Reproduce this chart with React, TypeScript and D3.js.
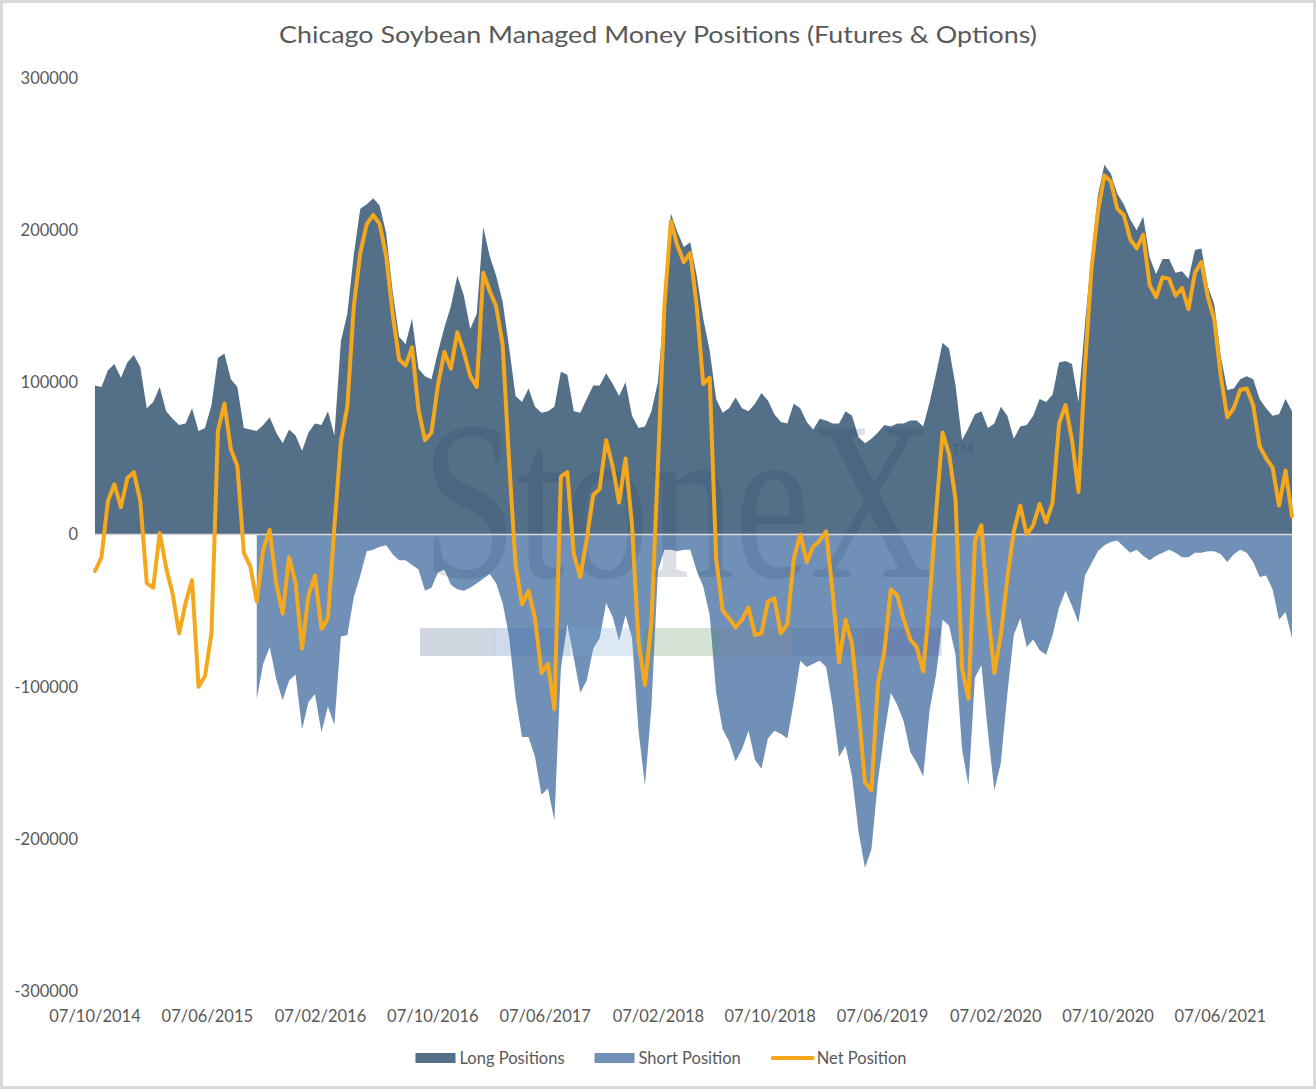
import React, { useRef, useEffect } from 'react';
import * as d3 from 'd3';

// ─── Data (thousands of contracts, one reading every two weeks) ──────────────
const TITLE = 'Chicago Soybean Managed Money Positions (Futures & Options)';
const FIRST_DATE = '07/10/2014';
const STEP_DAYS = 14;

const LONG_K: number[] = [
    98, 97, 108, 112, 103, 113, 118, 110, 83, 87,
    97, 81, 76, 72, 73, 83, 68, 70, 85, 116,
    119, 102, 97, 70, 69, 68, 72, 77, 67, 60,
    69, 65, 55, 67, 73, 72, 81, 65, 127, 145,
    184, 214, 217, 221, 216, 198, 160, 130, 125, 142,
    109, 104, 102, 120, 136, 150, 170, 157, 135, 145,
    202, 183, 170, 153, 123, 91, 87, 96, 84, 80,
    81, 84, 107, 105, 81, 80, 89, 98, 98, 106,
    99, 91, 100, 78, 70, 71, 81, 100, 150, 211,
    199, 189, 192, 170, 142, 121, 89, 80, 83, 90,
    83, 81, 86, 93, 88, 79, 74, 73, 86, 83,
    74, 69, 76, 75, 73, 73, 81, 78, 64, 60,
    63, 67, 72, 71, 73, 73, 75, 75, 71, 87,
    106, 126, 122, 98, 62, 70, 79, 81, 70, 73,
    84, 78, 63, 71, 72, 78, 89, 87, 92, 113,
    114, 112, 87, 138, 184, 223, 243, 237, 224, 217,
    207, 200, 209, 182, 171, 181, 181, 172, 173, 168,
    187, 188, 163, 151, 117, 95, 96, 102, 104, 102,
    89, 83, 78, 79, 89, 81,
];

const SHORT_K: (number | null)[] = [
    null, null, null, null, null, null, null, null, null, null,
    null, null, null, null, null, null, null, null, null, null,
    null, null, null, null, null, -108, -85, -74, -95, -109,
    -96, -92, -128, -110, -105, -130, -113, -125, -67, -66,
    -41, -27, -11, -10, -8, -7, -13, -17, -17, -20,
    -23, -37, -35, -25, -23, -33, -36, -37, -35, -32,
    -29, -26, -32, -45, -67, -107, -133, -133, -146, -171,
    -167, -188, -88, -59, -81, -104, -96, -75, -68, -45,
    -54, -70, -53, -68, -129, -165, -113, -24, -10, -10,
    -11, -10, -10, -24, -34, -53, -104, -128, -136, -149,
    -141, -129, -148, -154, -134, -129, -131, -134, -110, -83,
    -87, -85, -83, -87, -113, -146, -139, -159, -195, -219,
    -207, -162, -131, -104, -112, -123, -143, -150, -159, -115,
    -92, -56, -60, -79, -141, -165, -94, -86, -130, -168,
    -150, -105, -66, -55, -74, -69, -76, -79, -66, -48,
    -37, -47, -58, -27, -19, -11, -7, -5, -4, -8,
    -12, -10, -14, -17, -14, -12, -10, -12, -15, -15,
    -12, -12, -11, -11, -13, -18, -13, -10, -12, -18,
    -28, -27, -36, -56, -51, -68,
];

const NET_K: number[] = [
    -24, -15, 22, 33, 18, 37, 41, 22, -32, -35,
    1, -22, -39, -65, -45, -30, -100, -93, -65, 68,
    86, 56, 45, -12, -21, -44, -10, 3, -32, -52,
    -15, -32, -75, -40, -27, -62, -55, 5, 61, 84,
    150, 185, 204, 210, 204, 183, 145, 115, 111, 123,
    82, 62, 67, 98, 120, 109, 133, 120, 104, 97,
    172, 160, 150, 125, 48, -20, -46, -37, -55, -91,
    -85, -115, 38, 41, -13, -28, -3, 26, 30, 62,
    45, 21, 50, 6, -71, -99, -57, 45, 150, 206,
    190, 179, 185, 150, 99, 103, -16, -50, -55, -61,
    -56, -48, -66, -65, -44, -42, -65, -59, -16, 0,
    -18, -8, -4, 2, -38, -84, -56, -72, -115, -163,
    -168, -98, -77, -36, -40, -56, -69, -74, -90, -43,
    15, 67, 53, 23, -88, -108, -4, 6, -50, -91,
    -66, -29, 2, 19, 0, 6, 20, 8, 21, 73,
    85, 62, 28, 110, 174, 212, 236, 232, 214, 210,
    194, 188, 197, 164, 156, 169, 168, 157, 162, 148,
    172, 179, 156, 141, 104, 77, 83, 95, 96, 85,
    58, 50, 44, 19, 42, 12,
];

const Y_TICKS = [300, 200, 100, 0, -100, -200, -300];
const Y_TICK_LABELS = ['300000', '200000', '100000', '0', '-100000', '-200000', '-300000'];
const X_TICK_LABELS = [
    '07/10/2014', '07/06/2015', '07/02/2016', '07/10/2016', '07/06/2017', '07/02/2018',
    '07/10/2018', '07/06/2019', '07/02/2020', '07/10/2020', '07/06/2021',
];
const SERIES_NAMES = ['Long Positions', 'Short Position', 'Net Position'];
const WATERMARK_BANDS = ['#435F83', '#3F6FB0', '#73A7CF', '#578F5B', '#7A7F86', '#4F6F96', '#5A5AA0'];

// ─── Look ─────────────────────────────────────────────────────────────────────
const W = 1316;
const H = 1089;
const PLOT = { left: 95, right: 1292, top: 78, bottom: 991 };
const COL = {
    long: '#546F88',
    short: '#7090B7',
    net: '#F5A81C',
    text: '#595959',
    axis: '#D9D9D9',
    mark: '#1F3A5F',
};
const FONT = 'Lato, "Open Sans", sans-serif';

const parseDay = d3.timeParse('%d/%m/%Y');

const App: React.FC = () => {
    const ref = useRef<SVGSVGElement | null>(null);

    useEffect(() => {
        if (!ref.current) return;

        // ─── 1. Clean-slate ──────────────────────────────────────────────────
        const svg = d3.select(ref.current);
        svg.selectAll('*').remove();

        // ─── 2. Scales ───────────────────────────────────────────────────────
        const start = parseDay(FIRST_DATE) as Date;
        const dates = LONG_K.map((_, i) => d3.timeDay.offset(start, i * STEP_DAYS));
        const x = d3
            .scaleTime()
            .domain([dates[0], dates[dates.length - 1]])
            .range([PLOT.left, PLOT.right]);
        const y = d3.scaleLinear().domain([-300, 300]).range([PLOT.bottom, PLOT.top]);

        // ─── 3. Frame + title ────────────────────────────────────────────────
        svg.append('rect')
            .attr('x', 1.5).attr('y', 1.5)
            .attr('width', W - 3).attr('height', H - 3)
            .attr('fill', '#fff')
            .attr('stroke', COL.axis)
            .attr('stroke-width', 3);

        svg.append('text')
            .attr('x', W / 2)
            .attr('y', 43)
            .attr('text-anchor', 'middle')
            .attr('textLength', 758)
            .attr('lengthAdjust', 'spacingAndGlyphs')
            .style('font-family', FONT)
            .style('font-size', '23px')
            .style('fill', COL.text)
            .text(TITLE);

        // ─── 4. Areas ────────────────────────────────────────────────────────
        const longArea = d3.area<number>()
            .x((_, i) => x(dates[i]))
            .y0(y(0))
            .y1(d => y(d));

        svg.append('path')
            .datum(LONG_K)
            .attr('fill', COL.long)
            .attr('d', longArea);

        const shortArea = d3.area<number | null>()
            .defined(d => d !== null)
            .x((_, i) => x(dates[i]))
            .y0(y(0))
            .y1(d => y(d as number));

        svg.append('path')
            .datum(SHORT_K)
            .attr('fill', COL.short)
            .attr('d', shortArea);

        // ─── 5. Watermark ────────────────────────────────────────────────────
        // squeezed with a transform so its box matches the drawn glyphs
        const wm = svg.append('g').attr('pointer-events', 'none');
        const brand = wm.append('text')
            .attr('x', 0)
            .attr('y', 0)
            .style('font-family', '"Liberation Serif", "DejaVu Serif", serif')
            .style('font-size', '226px')
            .style('fill', COL.mark)
            .style('opacity', 0.15)
            .text('StoneX');
        const natural = (brand.node() as SVGTextElement).getComputedTextLength() || 645;
        brand.attr('transform', `translate(422,577) scale(${511 / natural},1)`);

        wm.append('text')
            .attr('x', 952)
            .attr('y', 454)
            .style('font-family', FONT)
            .style('font-size', '14px')
            .style('fill', COL.mark)
            .style('opacity', 0.25)
            .text('TM');

        const bandX = d3.scaleLinear().domain([0, WATERMARK_BANDS.length]).range([420, 941]);
        wm.selectAll('rect.band')
            .data(WATERMARK_BANDS)
            .enter()
            .append('rect')
            .attr('class', 'band')
            .attr('x', (_, i) => bandX(i))
            .attr('y', 628)
            .attr('width', bandX(1) - bandX(0) + 0.5)
            .attr('height', 28)
            .attr('fill', d => d)
            .style('opacity', 0.25);

        // ─── 6. Zero line ────────────────────────────────────────────────────
        svg.append('line')
            .attr('x1', PLOT.left).attr('x2', PLOT.right)
            .attr('y1', y(0)).attr('y2', y(0))
            .attr('stroke', COL.axis)
            .attr('stroke-width', 1.5);

        // ─── 7. Net line ─────────────────────────────────────────────────────
        const netLine = d3.line<number>()
            .x((_, i) => x(dates[i]))
            .y(d => y(d));

        svg.append('path')
            .datum(NET_K)
            .attr('fill', 'none')
            .attr('stroke', COL.net)
            .attr('stroke-width', 4)
            .attr('stroke-linejoin', 'round')
            .attr('stroke-linecap', 'round')
            .attr('d', netLine);

        // ─── 8. Axis labels ──────────────────────────────────────────────────
        svg.append('g')
            .selectAll('text')
            .data(Y_TICKS)
            .enter()
            .append('text')
            .attr('x', 78)
            .attr('y', d => y(d))
            .attr('dy', '0.36em')
            .attr('text-anchor', 'end')
            .style('font-family', FONT)
            .style('font-size', '16.5px')
            .style('fill', COL.text)
            .text((_, i) => Y_TICK_LABELS[i]);

        svg.append('g')
            .selectAll('text')
            .data(X_TICK_LABELS)
            .enter()
            .append('text')
            .attr('x', d => x(parseDay(d) as Date))
            .attr('y', 1022)
            .attr('text-anchor', 'middle')
            .style('font-family', FONT)
            .style('font-size', '16.5px')
            .style('fill', COL.text)
            .text(d => d);

        // ─── 9. Legend ───────────────────────────────────────────────────────
        const legend = svg.append('g');
        const keyW = 40;
        const gap = 4;
        const spacing = 30;
        let cursor = 0;
        SERIES_NAMES.forEach((name, i) => {
            const item = legend.append('g').attr('transform', `translate(${cursor},0)`);
            if (i < 2) {
                item.append('rect')
                    .attr('x', 0).attr('y', -5)
                    .attr('width', keyW).attr('height', 10)
                    .attr('fill', i === 0 ? COL.long : COL.short);
            } else {
                item.append('line')
                    .attr('x1', 2).attr('x2', keyW + 2)
                    .attr('y1', 0).attr('y2', 0)
                    .attr('stroke', COL.net)
                    .attr('stroke-width', 4)
                    .attr('stroke-linecap', 'round');
            }
            const label = item.append('text')
                .attr('x', keyW + gap + (i === 2 ? 2 : 0))
                .attr('y', 0)
                .attr('dy', '0.36em')
                .style('font-family', FONT)
                .style('font-size', '16.5px')
                .style('fill', COL.text)
                .text(name);
            const len = (label.node() as SVGTextElement).getComputedTextLength();
            cursor += keyW + gap + len + spacing;
        });
        const total = cursor - spacing;
        legend.attr('transform', `translate(${660 - total / 2},1058)`);
    }, []);

    return (
        <>
            <style>{'body{margin:0}'}</style>
            <svg ref={ref} width={W} height={H} style={{ display: 'block' }} />
        </>
    );
};

export default App;
